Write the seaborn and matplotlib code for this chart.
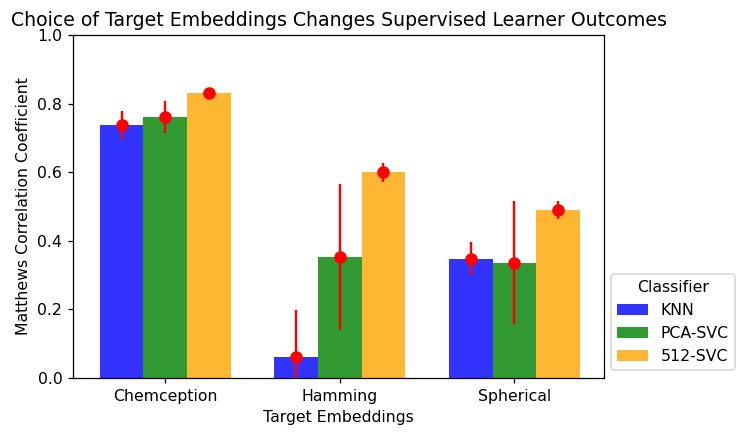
import matplotlib
matplotlib.use("Agg")
import matplotlib.pyplot as plt
import pandas as pd
import seaborn as sns
import numpy as np

embeddings = ["Chemception", "Hamming", "Spherical"]
classifiers = ["KNN", "PCA-SVC", "512-SVC"]
# mean MCC per classifier, one value per embedding
knn_mcc = [0.738, 0.062, 0.348]
pca_svc_mcc = [0.760, 0.353, 0.336]
svc512_mcc = [0.830, 0.600, 0.490]
# error bar half-widths
knn_err = [0.040, 0.135, 0.048]
pca_svc_err = [0.047, 0.212, 0.179]
svc512_err = [0.005, 0.028, 0.027]

means = [knn_mcc, pca_svc_mcc, svc512_mcc]
errs = [knn_err, pca_svc_err, svc512_err]

rows = []
for clf, m, e in zip(classifiers, means, errs):
    for emb, v, s in zip(embeddings, m, e):
        rows.append({"Target Embeddings": emb, "Classifier": clf, "MCC": v, "err": s})
df = pd.DataFrame(rows)

dpi = 113
fig, ax = plt.subplots(figsize=(748 / dpi, 437 / dpi), dpi=dpi)

sns.barplot(data=df, x="Target Embeddings", y="MCC", hue="Classifier",
            palette=["blue", "green", "orange"], saturation=1, alpha=0.8,
            width=0.75, errorbar=None, linewidth=0, ax=ax)

for cont, clf in zip(ax.containers, classifiers):
    sub = df[df["Classifier"] == clf]
    xs = [p.get_x() + p.get_width() / 2 for p in cont.patches]
    ax.errorbar(xs, sub["MCC"].values, yerr=sub["err"].values, fmt="o",
                color="red", ecolor="red", markersize=7, elinewidth=1.5,
                capsize=0, zorder=3)

ax.set_ylim(0, 1.0)
ax.set_xlim(-0.527, 2.516)
ax.set_ylabel("Matthews Correlation Coefficient")
ax.set_xlabel("Target Embeddings")
ax.set_title("Choice of Target Embeddings Changes Supervised Learner Outcomes")
ax.legend(title="Classifier", loc="lower left", bbox_to_anchor=(0.997, 0.0))

fig.subplots_adjust(left=0.098, right=0.808, top=0.92, bottom=0.135)
fig.savefig("out.png", dpi=dpi)
